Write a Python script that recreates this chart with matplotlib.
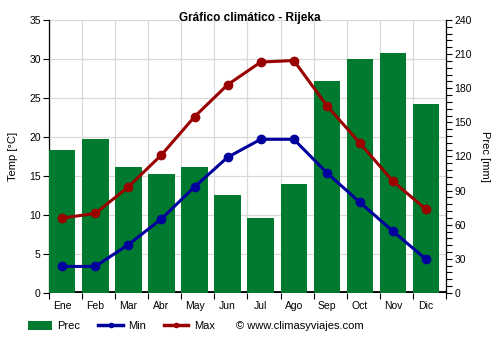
import matplotlib
matplotlib.use("Agg")
import matplotlib.pyplot as plt
from matplotlib.ticker import MultipleLocator, FixedLocator, NullFormatter
from matplotlib.patches import Patch
from matplotlib.lines import Line2D
import numpy as np

plt.rcParams['font.family'] = ['Liberation Sans', 'DejaVu Sans']

months = ["Ene", "Feb", "Mar", "Abr", "May", "Jun", "Jul", "Ago", "Sep", "Oct", "Nov", "Dic"]
prec = [126, 135, 111, 105, 111, 86, 66, 96, 186, 206, 211, 166]
t_min = [3.4, 3.4, 6.2, 9.5, 13.6, 17.4, 19.7, 19.7, 15.4, 11.6, 7.9, 4.3]
t_max = [9.6, 10.2, 13.6, 17.7, 22.6, 26.7, 29.6, 29.8, 24.0, 19.2, 14.3, 10.7]

c_prec = "#007A2E"
c_min = "#00009C"
c_max = "#990000"

fig = plt.figure(figsize=(5, 3.5), dpi=100)
ax = fig.add_axes([0.098, 0.163, 0.794, 0.78])
x = np.arange(len(months))
centers = x + 0.4

# base axes: temperature scale and grid
ax.set_xlim(0, 12)
ax.set_ylim(0, 35)
ax.yaxis.set_major_locator(MultipleLocator(5))
ax.xaxis.set_major_locator(FixedLocator(list(range(13))))
ax.xaxis.set_major_formatter(NullFormatter())
ax.xaxis.set_minor_locator(FixedLocator(centers))
ax.set_xticklabels(months, minor=True)
ax.tick_params(axis='x', which='minor', length=0, pad=6, labelsize=7.5)
ax.tick_params(axis='x', which='major', length=4, width=0.8)
ax.tick_params(axis='y', length=4, width=0.8, labelsize=7.5, pad=2)
ax.grid(True, which='major', color='#d9d9d9', linewidth=0.9)
for s in ['top', 'bottom', 'right']:
    ax.spines[s].set_visible(False)
ax.spines['left'].set_linewidth(0.9)
ax.set_ylabel("Temp [°C]", fontsize=8, labelpad=8)

# precipitation bars on the right scale
ax2 = ax.twinx()
ax2.set_ylim(0, 240)
ax2.axhline(0, color='black', linewidth=3.5, zorder=1)
ax2.bar(x, prec, width=0.8, align='edge', color=c_prec, zorder=2)
ax2.yaxis.set_major_locator(MultipleLocator(30))
ax2.yaxis.set_minor_locator(MultipleLocator(6))
ax2.tick_params(axis='y', which='major', length=4, width=0.8, labelsize=7.5, pad=2)
ax2.tick_params(axis='y', which='minor', length=4, width=0.8)
for s in ['top', 'bottom', 'left']:
    ax2.spines[s].set_visible(False)
ax2.spines['right'].set_linewidth(0.9)
ax2.set_ylabel("Prec [mm]", fontsize=8, rotation=-90, labelpad=13)

# temperature lines on top
ax3 = ax.twinx()
ax3.set_ylim(0, 35)
ax3.set_xlim(0, 12)
ax3.axis('off')
ax3.plot(centers, t_min, color=c_min, linewidth=2.2, marker='o', markersize=6, zorder=3)
ax3.plot(centers, t_max, color=c_max, linewidth=2.2, marker='o', markersize=6, zorder=3)

fig.text(0.5, 0.948, "Gráfico climático - Rijeka", ha='center', va='center',
         fontsize=8.5, fontweight='bold')

handles = [
    Patch(facecolor=c_prec, edgecolor='none'),
    Line2D([], [], color=c_min, linewidth=2.5, marker='o', markersize=3),
    Line2D([], [], color=c_max, linewidth=2.5, marker='o', markersize=3),
]
fig.legend(handles, ["Prec", "Min", "Max"], loc='center left',
           bbox_to_anchor=(0.035, 0.068), ncol=3, frameon=False, fontsize=8,
           handlelength=2.2, handleheight=0.9, handletextpad=0.5, columnspacing=1.6)
fig.text(0.472, 0.068, "© www.climasyviajes.com", ha='left', va='center', fontsize=8)

fig.savefig("out.png", dpi=100)
